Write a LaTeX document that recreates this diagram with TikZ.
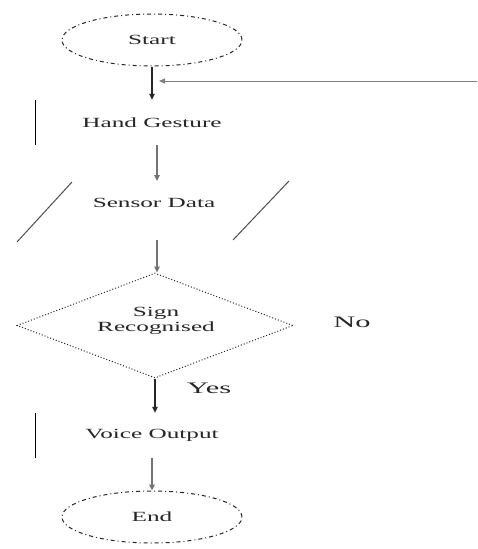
\documentclass[tikz,border=0pt]{standalone}
\usepackage{fontspec}
\usepackage{graphicx}
\setmainfont{Liberation Serif}
\usetikzlibrary{shapes.geometric,arrows.meta}
\newcommand{\wx}[1]{\scalebox{1.8}[1]{#1}}
\newcommand{\wy}[1]{\scalebox{1.9}[1]{#1}}
\begin{document}
\begin{tikzpicture}[x=1pt,y=-1pt,
  txt/.style={font=\fontsize{14}{17}\selectfont, inner sep=0pt, text=black!85},
  big/.style={font=\fontsize{16}{19}\selectfont, inner sep=0pt, text=black!85},
  term/.style={ellipse, draw=black!85, line width=1pt,
    dash pattern=on 4pt off 3pt on 1pt off 3pt,
    minimum width=180pt, minimum height=52pt, inner sep=0pt,
    font=\fontsize{14}{17}\selectfont, text=black!85},
  decision/.style={diamond, draw=black!85, line width=1pt,
    dash pattern=on 1pt off 2pt,
    minimum width=276pt, minimum height=105pt, inner sep=0pt},
  boxtxt/.style={txt, minimum width=232pt, minimum height=45pt},
  arr/.style={-{Triangle[length=6pt,width=5.5pt]}, line width=1.3pt, draw=black!85},
  garr/.style={arr, draw=black!55},
  bar/.style={line width=1.3pt, draw=black},
  slash/.style={line width=1pt, draw=black!70},
  fbline/.style={-{Triangle[length=6pt,width=5pt]}, line width=0.8pt, draw=black!50}
]
\useasboundingbox[fill=white] (0,0) rectangle (477,549);

% nodes
\node[term] (start) at (152,40) {\wx{Start}};
\node[boxtxt] (hg) at (152,122.5) {\wx{Hand Gesture}};
\node[txt] (sd) at (154,203) {\wx{Sensor Data}};
\node[decision] (dec) at (155,325.5) {};
\node[txt, align=center] (dectext) at (156,320.5) {\wx{Sign}\\[-2pt]\wx{Recognised}};
\node[big] (no) at (352,322) {\wy{No}};
\node[big] (yes) at (209,388) {\wy{Yes}};
\node[boxtxt] (vo) at (152,435.5) {\wx{Voice Output}};
\node[term] (end) at (152,517) {\wx{End}};

% helper coordinates
\coordinate (fbs) at (477,81);
\coordinate (fbe) at (159,81);
\coordinate (sdt) at (157,181);
\coordinate (sdb) at (157,240);
\coordinate (pbl) at (17,242);
\coordinate (ptl) at (72,182);
\coordinate (pbr) at (233,240);
\coordinate (ptr) at (289,181);

% partial shapes
\draw[bar] (hg.north west) -- (hg.south west);
\draw[bar] (vo.north west) -- (vo.south west);
\draw[slash] (pbl) -- (ptl);
\draw[slash] (pbr) -- (ptr);

% connectors
\draw[arr] (start.south) -- (hg.north);
\draw[fbline] (fbs) -- (fbe);
\draw[garr] (hg.south -| sdt) -- (sdt);
\draw[garr] (sdb) -- (sdb |- dec.north);
\draw[arr] (dec.south) -- (dec.south |- vo.north);
\draw[garr] (vo.south) -- (end.north);
\end{tikzpicture}
\end{document}
